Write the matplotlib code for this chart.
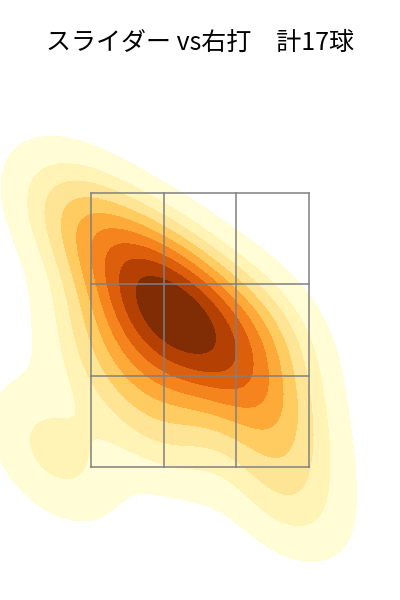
import matplotlib
matplotlib.use("Agg")
import matplotlib.pyplot as plt
import seaborn as sns
import numpy as np
import pandas as pd

title = "スライダー vs右打　計17球"

plate_x = [-0.419, -0.152, 0.038, -0.343, 0.152, -0.609, -0.114, -0.228, -0.685,
           0.381, -0.724, 0.495, -0.990, -1.104, 0.647, 0.571, -0.305]
plate_z = [2.828, 2.719, 2.391, 2.464, 2.609, 2.719, 2.245, 2.938, 3.193,
           2.099, 2.281, 2.5, 3.340, 1.609, 1.318, 1.843, 1.807]

zone_x = [-0.83, 0.83]
zone_z = [1.5, 3.5]

df = pd.DataFrame({"plate_x": plate_x, "plate_z": plate_z})

fig = plt.figure(figsize=(4, 6), dpi=100)
ax = fig.add_axes([0, 0, 1, 1])
sns.kdeplot(data=df, x="plate_x", y="plate_z", fill=True, cmap="YlOrBr", ax=ax)

xs = np.linspace(zone_x[0], zone_x[1], 4)
zs = np.linspace(zone_z[0], zone_z[1], 4)
for x in xs:
    ax.plot([x, x], zone_z, color="gray", lw=1.1)
for z in zs:
    ax.plot(zone_x, [z, z], color="gray", lw=1.1)

ax.set_xlim(-1.523, 1.523)
ax.set_ylim(0.529, 4.909)
ax.axis("off")
fig.text(0.5, 1 - 43 / 600, title, ha="center", va="center", fontsize=18,
         family=["Noto Sans CJK JP", "DejaVu Sans"])
fig.savefig("out.png", dpi=100)
